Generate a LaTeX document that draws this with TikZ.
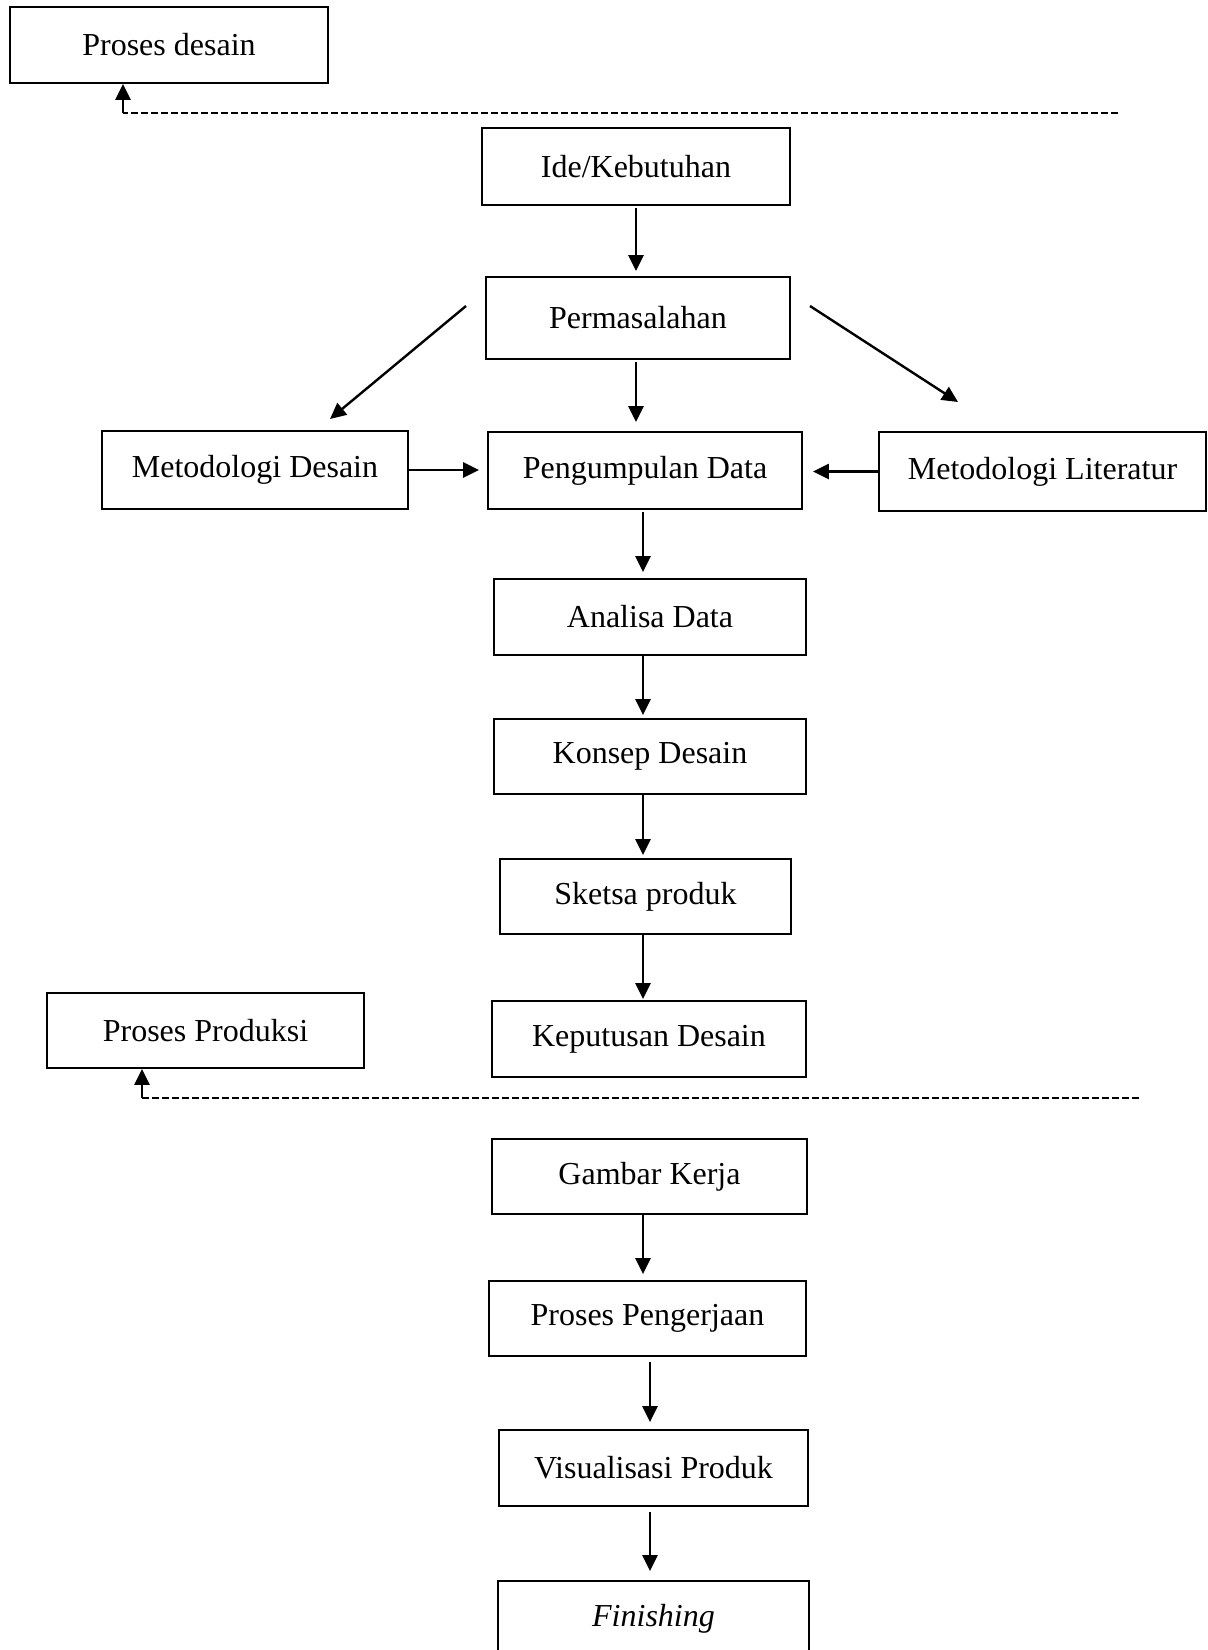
\documentclass[tikz,border=0pt]{standalone}
\usepackage{fontspec}
\setmainfont{Liberation Serif}
\usetikzlibrary{arrows.meta}
\begin{document}
\begin{tikzpicture}[x=1pt,y=-1pt,
  box/.style={draw,line width=1.8pt,inner sep=0pt,font=\fontsize{32}{38}\selectfont},
  arr/.style={line width=2.4pt,-{Triangle[length=16pt,width=15pt]}},
  dash line/.style={line width=1.6pt,dash pattern=on 7pt off 3pt}]
\useasboundingbox (0,0) rectangle (1208,1650);
\node[box,minimum width=318,minimum height=76] (pdes) at (169,45) {Proses desain};
\node[box,minimum width=308,minimum height=77] (ide) at (636,166.5) {Ide/Kebutuhan};
\node[box,minimum width=304,minimum height=82] (perm) at (638,318) {Permasalahan};
\node[box,minimum width=306,minimum height=78] (mdes) at (255,470) {Metodologi Desain};
\node[box,minimum width=314,minimum height=77] (peng) at (645,470.5) {Pengumpulan Data};
\node[box,minimum width=327,minimum height=79] (mlit) at (1042.5,471.5) {Metodologi Literatur};
\node[box,minimum width=312,minimum height=76] (anal) at (650,617) {Analisa Data};
\node[box,minimum width=312,minimum height=75] (kons) at (650,756.5) {Konsep Desain};
\node[box,minimum width=291,minimum height=75] (sket) at (645.5,896.5) {Sketsa produk};
\node[box,minimum width=314,minimum height=76] (kepu) at (649,1039) {Keputusan Desain};
\node[box,minimum width=317,minimum height=75] (ppro) at (205.5,1030.5) {Proses Produksi};
\node[box,minimum width=315,minimum height=75] (gamb) at (649.5,1176.5) {Gambar Kerja};
\node[box,minimum width=317,minimum height=75] (pker) at (647.5,1318.5) {Proses Pengerjaan};
\node[box,minimum width=309,minimum height=76] (visu) at (653.5,1468) {Visualisasi Produk};
\node[box,minimum width=311,minimum height=75] (fini) at (653.5,1618.5) {\itshape Finishing};
% dashed separators
\coordinate (d1s) at (1118,113);
\coordinate (d1c) at (123,113);
\draw[dash line] (d1s) -- (d1c);
\draw[arr] (d1c) -- (d1c |- pdes.south);
\coordinate (d2s) at (1139,1098);
\coordinate (d2c) at (142,1098);
\draw[dash line] (d2s) -- (d2c);
\draw[arr] (d2c) -- (d2c |- ppro.south);
% vertical arrows
\coordinate (xa) at (636,0);
\coordinate (xb) at (643,0);
\coordinate (xc) at (650,0);
\draw[arr,shorten <=2pt,shorten >=5pt] (xa |- ide.south) -- (xa |- perm.north);
\draw[arr,shorten <=2pt,shorten >=9pt] (xa |- perm.south) -- (xa |- peng.north);
\draw[arr,shorten <=2pt,shorten >=6pt] (xb |- peng.south) -- (xb |- anal.north);
\draw[arr,shorten >=3pt] (xb |- anal.south) -- (xb |- kons.north);
\draw[arr,shorten >=3pt] (xb |- kons.south) -- (xb |- sket.north);
\draw[arr,shorten >=1pt] (xb |- sket.south) -- (xb |- kepu.north);
\draw[arr,shorten >=6pt] (xb |- gamb.south) -- (xb |- pker.north);
\draw[arr,shorten <=5pt,shorten >=7pt] (xc |- pker.south) -- (xc |- visu.north);
\draw[arr,shorten <=5pt,shorten >=9pt] (xc |- visu.south) -- (xc |- fini.north);
% horizontal arrows
\draw[arr,shorten >=8pt] (mdes.east) -- (mdes.east -| peng.west);
\draw[arr,shorten >=10pt] (mlit.west) -- (mlit.west -| peng.east);
% diagonal arrows
\coordinate (l1) at (466,306);
\coordinate (l2) at (330,419);
\coordinate (r1) at (810,306);
\coordinate (r2) at (958,402);
\draw[arr] (l1) -- (l2);
\draw[arr] (r1) -- (r2);
\end{tikzpicture}
\end{document}
